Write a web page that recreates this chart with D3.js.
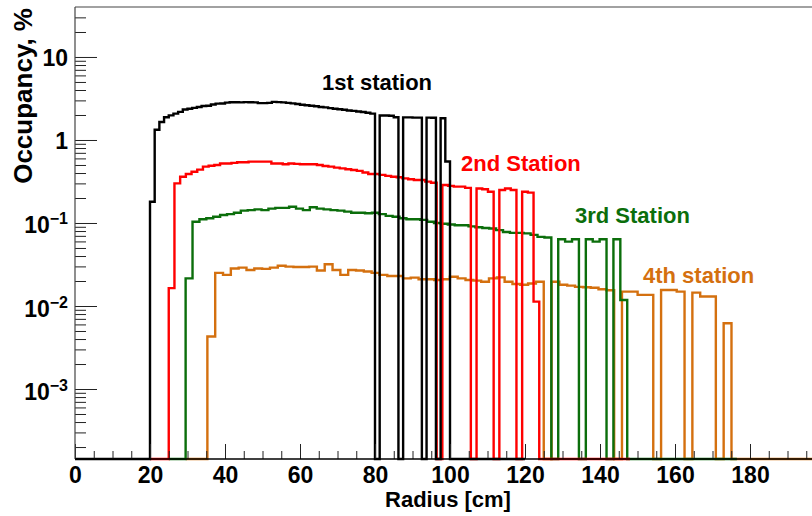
<!DOCTYPE html>
<html>
<head>
<meta charset="utf-8">
<script src="https://cdn.jsdelivr.net/npm/d3@7"></script>
<style>
  html, body { margin: 0; padding: 0; background: #fff; }
  svg { display: block; }
  text { font-family: "Liberation Sans", Arial, Helvetica, sans-serif; font-weight: bold; }
</style>
</head>
<body>
<svg id="chart" width="812" height="516"></svg>
<script>
// ---------------- data ----------------
const stationNames = ["1st station", "2nd Station", "3rd Station", "4th station"];
// lower edge of first bin and bin width (cm) for each station histogram
const binStart = [20, 25.0, 29.5, 35.3];
const binWidth = [1.25, 1.52, 1.84, 2.086];
// histogram range (zero bins are drawn on the frame bottom)
const rangeLo = [0, 20, 25, 29.5];
const rangeHi = [120, 148, 176.5, 200];

const station1 = [0.18,1.33,1.65,1.88,1.98,2.08,2.18,2.33,2.38,2.44,2.5,2.57,2.58,2.68,2.74,2.75,
  2.82,2.85,2.85,2.84,2.86,2.85,2.84,2.78,2.78,2.8,2.88,2.86,2.84,2.8,2.76,2.71,
  2.66,2.62,2.58,2.55,2.5,2.47,2.42,2.38,2.35,2.31,2.27,2.24,2.2,2.17,2.13,2.08,
  0,1.97,1.97,1.96,1.88,0,1.87,1.87,1.86,1.86,0,1.86,1.85,0,1.83,0.55];
const station2 = [0.0164,0.30,0.36,0.39,0.415,0.44,0.477,0.49,0.5,0.52,0.52,0.53,0.54,0.54,0.548,0.548,
  0.548,0.548,0.52,0.52,0.51,0.52,0.515,0.51,0.51,0.51,0.5,0.486,0.477,0.465,0.455,0.444,
  0.435,0.425,0.406,0.39,0.39,0.38,0.37,0.36,0.355,0.345,0.337,0.33,0.33,0.315,0.305,0,
  0.287,0.28,0.274,0.274,0.265,0,0.26,0.255,0.238,0,0.25,0.26,0.25,0,0.238,0.232,0.0113];
const station3 = [0.0215,0.1036,0.111,0.114,0.119,0.125,0.128,0.133,0.141,0.143,0.146,0.143,0.149,0.152,0.152,0.157,
  0.149,0.143,0.155,0.149,0.146,0.143,0.141,0.137,0.133,0.133,0.131,0.133,0.128,0.122,0.119,0.114,
  0.111,0.111,0.109,0.1036,0.1,0.098,0.096,0.094,0.094,0.091,0.089,0.087,0.086,0.082,0.078,0.076,
  0.076,0.075,0.072,0.068,0.067,0,0.0636,0.0596,0.0636,0,0.0636,0.0596,0.0636,0,0.0636,0.0118];
const station4 = [0.0043,0.0251,0.0237,0.0283,0.029,0.0272,0.0283,0.028,0.029,0.0306,0.0298,0.0295,0.0295,0.0298,0.0268,0.0318,
  0.0272,0.0237,0.0272,0.0268,0.026,0.0251,0.0237,0.023,0.023,0.0215,0.022,0.021,0.021,0.0206,0.021,0.0225,
  0.0215,0.0206,0.0202,0.0196,0.0215,0.0221,0.0196,0.0184,0.018,0.0187,0.0196,0,0.0196,0.018,0.0176,0.017,
  0.0168,0.0166,0.0159,0.0155,0,0.0149,0.0149,0.0136,0.0136,0,0.0156,0.0156,0.0149,0,0.0145,0.013,0.013,0,0.0062];
const stationValues = [station1, station2, station3, station4];

const xMajorTicks = [0, 20, 40, 60, 80, 100, 120, 140, 160, 180];
const yMajorTicks = [1e-3, 1e-2, 1e-1, 1, 10];
const yTickLabels = [["10", "\u22123"], ["10", "\u22122"], ["10", "\u22121"], ["1", ""], ["10", ""]];
const xDomain = [0, 200];
const yDomain = [1.435e-4, 40];
const xTitle = "Radius [cm]";
const yTitle = "Occupancy, %";

// ---------------- styles / layout ----------------
const colors = ["#000000", "#ff0000", "#0b6e0b", "#d4700f"];
const labelPos = [[322, 90], [461, 171], [575, 223], [643, 283]];
const L = 75, R = 825, T = 7, B = 459;

const svg = d3.select("#chart");
const x = d3.scaleLinear().domain(xDomain).range([L, R]);
const y = d3.scaleLog().domain(yDomain).range([B, T]);

// histograms (drawn so black ends up on top)
const line = d3.line()
  .x(d => x(d[0]))
  .y(d => d[1] > 0 ? y(d[1]) : B)
  .curve(d3.curveStepAfter);

const order = [3, 2, 1, 0];
order.forEach(i => {
  const vals = stationValues[i];
  const pts = [[rangeLo[i], 0]];
  vals.forEach((v, k) => pts.push([binStart[i] + k * binWidth[i], v]));
  pts.push([binStart[i] + vals.length * binWidth[i], 0]);
  pts.push([rangeHi[i], 0]);
  svg.append("path")
    .attr("d", line(pts))
    .attr("fill", "none")
    .attr("stroke", colors[i])
    .attr("stroke-width", 2.4)
    .attr("stroke-linejoin", "miter");
});

// x axis (ticks pointing inside)
const xMinor = d3.range(0, 201, 5).filter(v => v % 20 !== 0);
const gxMinor = svg.append("g").attr("transform", `translate(0,${B})`)
  .call(d3.axisBottom(x).tickValues(xMinor).tickSize(-8).tickFormat(""));
const gx = svg.append("g").attr("transform", `translate(0,${B})`)
  .call(d3.axisBottom(x).tickValues(xMajorTicks).tickSize(-15).tickPadding(8).tickFormat(d3.format("d")));
[gx, gxMinor].forEach(g => {
  g.select(".domain").remove();
  g.selectAll(".tick line").attr("stroke", "#222").attr("stroke-width", 1);
});
gx.selectAll(".tick text").attr("font-size", 23).attr("fill", "#000")
  .attr("font-family", "'Liberation Sans', Arial, sans-serif").attr("font-weight", "bold");

// y axis
const yMinor = [];
[-4, -3, -2, -1, 0, 1].forEach(e => { for (let m = 2; m <= 9; m++) { const v = m * Math.pow(10, e); if (v > yDomain[0] && v < yDomain[1]) yMinor.push(v); } });
const gyMinor = svg.append("g").attr("transform", `translate(${L},0)`)
  .call(d3.axisLeft(y).tickValues(yMinor).tickSize(-11).tickFormat(""));
const gy = svg.append("g").attr("transform", `translate(${L},0)`)
  .call(d3.axisLeft(y).tickValues(yMajorTicks).tickSize(-22).tickFormat(""));
[gy, gyMinor].forEach(g => {
  g.select(".domain").remove();
  g.selectAll(".tick line").attr("stroke", "#222").attr("stroke-width", 1);
});
gy.selectAll(".tick").each(function (d, i) {
  const t = d3.select(this).append("text")
    .attr("x", -7).attr("y", yTickLabels[i][1] ? 10 : 9)
    .attr("text-anchor", "end").attr("fill", "#000")
    .attr("font-size", 23);
  t.append("tspan").text(yTickLabels[i][0]);
  if (yTickLabels[i][1]) {
    t.append("tspan").attr("dy", -9).attr("font-size", 16).text(yTickLabels[i][1]);
  }
});

// frame
svg.append("line").attr("x1", L).attr("x2", L).attr("y1", T).attr("y2", B).attr("stroke", "#444").attr("stroke-width", 1.2);
svg.append("line").attr("x1", L).attr("x2", R).attr("y1", T).attr("y2", T).attr("stroke", "#444").attr("stroke-width", 1.2);
svg.append("line").attr("x1", R).attr("x2", R).attr("y1", T).attr("y2", B).attr("stroke", "#444").attr("stroke-width", 1.2);
svg.append("line").attr("x1", L).attr("x2", R).attr("y1", B).attr("y2", B).attr("stroke", "#000").attr("stroke-width", 1.6);

// titles
svg.append("text").attr("x", (L + R) / 2 - 2).attr("y", 507).attr("text-anchor", "middle")
  .attr("font-size", 22).attr("fill", "#000").text(xTitle);
svg.append("text").attr("transform", `translate(32,${T + 1}) rotate(-90)`).attr("text-anchor", "end")
  .attr("font-size", 26).attr("fill", "#000").text(yTitle);

// station labels
stationNames.forEach((n, i) => {
  svg.append("text").attr("x", labelPos[i][0]).attr("y", labelPos[i][1])
    .attr("font-size", 22).attr("fill", colors[i]).text(n);
});
</script>
</body>
</html>
